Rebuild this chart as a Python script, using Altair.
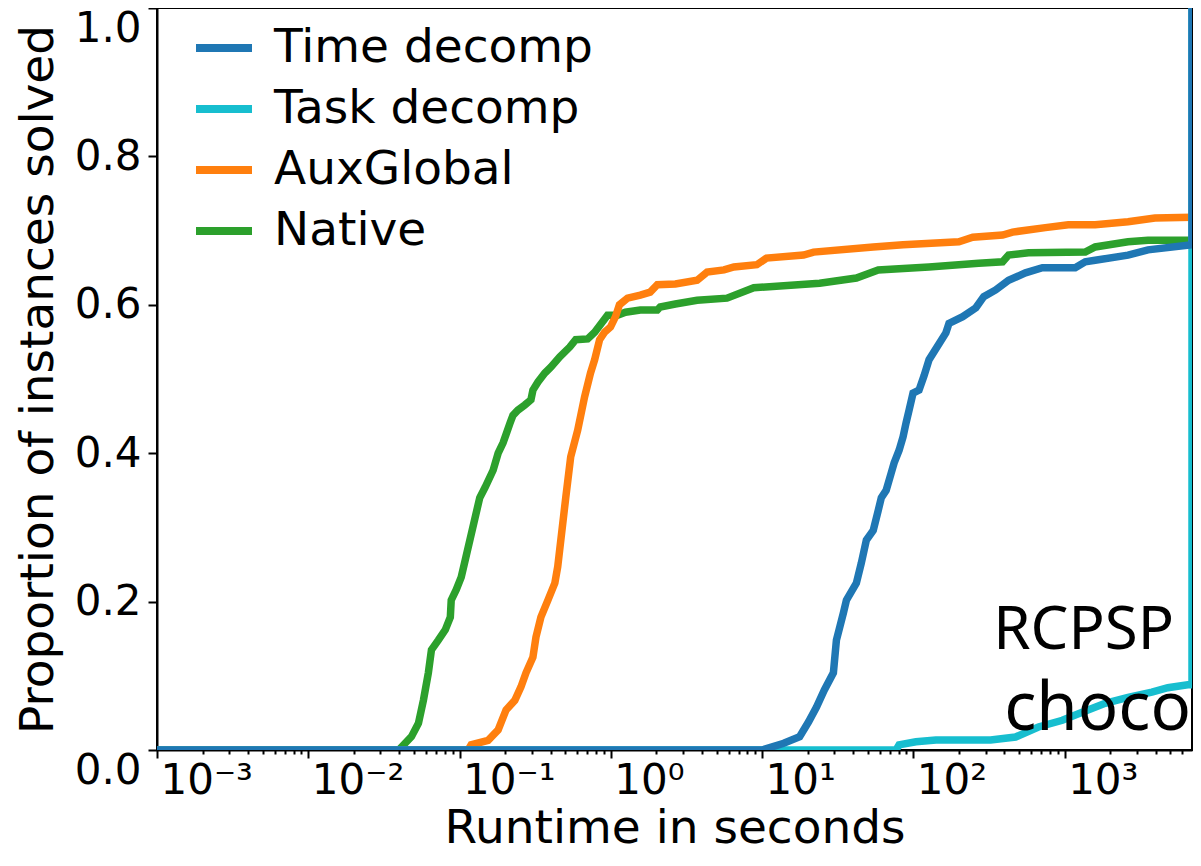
import altair as alt
import pandas as pd

series_names = ["Time decomp", "Task decomp", "AuxGlobal", "Native"]
series_colors = ["#1f77b4", "#17becf", "#ff7f0e", "#2ca02c"]
draw_order = ["Native", "AuxGlobal", "Task decomp", "Time decomp"]

native_t = [0.001, 0.0396, 0.0481, 0.0535, 0.0577, 0.0622, 0.0652, 0.0724, 0.0805, 0.0869,
            0.0881, 0.0951, 0.1026, 0.109, 0.136, 0.1476, 0.1667, 0.180, 0.194,
            0.216, 0.2254, 0.243, 0.270, 0.2965, 0.3055, 0.330, 0.3664, 0.401, 0.460,
            0.535, 0.586, 0.703, 0.782, 0.951, 1.107, 1.25, 1.567, 2.03, 2.12,
            2.67, 3.72, 5.86, 8.81, 24.0, 42.0, 58.6, 126.8, 270, 389,
            426, 577, 1368, 1592, 2624, 3556, 6950]
native_p = [0, 0, 0.018, 0.036, 0.067, 0.104, 0.135, 0.148, 0.162, 0.179,
            0.202, 0.216, 0.233, 0.256, 0.340, 0.354, 0.377, 0.400, 0.414,
            0.441, 0.451, 0.458, 0.465, 0.472, 0.485, 0.496, 0.508, 0.516, 0.530,
            0.543, 0.553, 0.554, 0.563, 0.586, 0.586, 0.590, 0.593, 0.593, 0.597,
            0.601, 0.606, 0.609, 0.623, 0.629, 0.636, 0.647, 0.651, 0.656, 0.658,
            0.667, 0.670, 0.671, 0.678, 0.685, 0.687, 0.687]

aux_t = [0.001, 0.114, 0.1194, 0.1545, 0.180, 0.203, 0.232, 0.2547, 0.275, 0.3055,
         0.320, 0.345, 0.384, 0.4266, 0.4457, 0.5035, 0.543, 0.604, 0.671, 0.734,
         0.782, 0.843, 0.910, 0.995, 1.074, 1.14, 1.29, 1.567, 1.82, 2.03,
         2.67, 3.72, 4.33, 5.60, 6.51, 9.23, 10.7, 18.8, 21.9, 54.3,
         85.5, 200, 247, 389, 453, 746, 1057, 1592, 2624, 3953, 6950]
aux_p = [0, 0, 0.007, 0.013, 0.027, 0.054, 0.067, 0.085, 0.104, 0.125,
         0.152, 0.179, 0.202, 0.225, 0.247, 0.340, 0.395, 0.431, 0.476, 0.508,
         0.526, 0.553, 0.563, 0.570, 0.584, 0.600, 0.609, 0.613, 0.617, 0.627,
         0.628, 0.633, 0.644, 0.647, 0.651, 0.654, 0.663, 0.667, 0.671, 0.678,
         0.681, 0.685, 0.691, 0.694, 0.698, 0.704, 0.708, 0.708, 0.712, 0.717, 0.718]

time_t = [0.001, 9.96, 13.9, 17.7, 20.3, 22.9, 25.8, 29.6, 31.0, 34.5,
          36.1, 42.0, 45.3, 48.9, 54.3, 58.6, 61.4, 66.1, 71.3, 74.6,
          80.5, 85.5, 89.5, 93.7, 99.5, 109, 117.5, 127, 164, 172,
          212, 259, 292, 350, 426, 551, 713, 1175, 1368, 1592,
          2624, 3556, 6950, 6950]
time_p = [0, 0, 0.009, 0.018, 0.038, 0.058, 0.081, 0.104, 0.148, 0.185,
          0.202, 0.225, 0.252, 0.283, 0.296, 0.323, 0.340, 0.350, 0.373, 0.387,
          0.404, 0.422, 0.441, 0.458, 0.481, 0.485, 0.504, 0.526, 0.562, 0.575,
          0.584, 0.596, 0.611, 0.620, 0.633, 0.643, 0.650, 0.650, 0.658, 0.660,
          0.667, 0.674, 0.681, 1.0]

task_t = [0.001, 76.9, 80.5, 104, 141, 324, 474, 671, 966, 1307,
          1853, 2624, 3776, 4810, 6516, 6950, 6950]
task_p = [0, 0, 0.007, 0.011, 0.0135, 0.0135, 0.0175, 0.031, 0.040, 0.051,
          0.063, 0.071, 0.078, 0.084, 0.088, 0.088, 1.0]

x_major = [0.001, 0.01, 0.1, 1, 10, 100, 1000]
x_major_labels = ["10⁻³", "10⁻²", "10⁻¹", "10⁰", "10¹", "10²", "10³"]
x_max = 6950
y_ticks = [0.0, 0.2, 0.4, 0.6, 0.8, 1.0]
annotation_lines = ["RCPSP", "choco"]

series_data = {
    "Time decomp": (time_t, time_p),
    "Task decomp": (task_t, task_p),
    "AuxGlobal": (aux_t, aux_p),
    "Native": (native_t, native_p),
}
rows = []
for name, (ts, ps) in series_data.items():
    for i, (t, p) in enumerate(zip(ts, ps)):
        rows.append({"series": name, "t": t, "p": p, "i": i})
df = pd.DataFrame(rows)

x_minor = [k * 10 ** e for e in range(-3, 4) for k in range(2, 10) if k * 10 ** e <= x_max]
x_ticks = sorted(x_major + x_minor)

major_test = " || ".join(f"datum.value == {v}" for v in x_major)
label_expr = ""
for v, lab in zip(x_major, x_major_labels):
    label_expr += f"datum.value == {v} ? '{lab}' : "
label_expr += "''"

PLOT_W = 1035
PLOT_H = 742

x_enc = alt.X(
    "t:Q",
    scale=alt.Scale(type="log", domain=[0.001, x_max], nice=False),
    axis=alt.Axis(
        values=x_ticks,
        labelExpr=label_expr,
        tickSize={"condition": {"test": major_test, "value": 8}, "value": 4},
        labelAlign="left",
        labelBaseline="top",
        labelOffset=3,
        labelPadding=2,
        labelFlush=False,
        labelOverlap=False,
        labelBound=False,
        titlePadding=4,
        grid=False,
    ),
    title="Runtime in seconds",
)
y_enc = alt.Y(
    "p:Q",
    scale=alt.Scale(domain=[0, 1], nice=False),
    axis=alt.Axis(
        values=y_ticks,
        format=".1f",
        tickSize=9,
        labelPadding=7,
        labelBaseline={"condition": {"test": "datum.value <= 0 || datum.value >= 1", "value": "top"},
                       "value": "middle"},
        labelFlush=False,
        titlePadding=12,
        grid=False,
    ),
    title="Proportion of instances solved",
)
color_enc = alt.Color(
    "series:N",
    scale=alt.Scale(domain=series_names, range=series_colors),
    legend=alt.Legend(
        orient="none", legendX=35, legendY=8, title=None,
        symbolType="stroke", symbolSize=3136, symbolStrokeWidth=8,
        labelFont="DejaVu Sans", labelFontSize=47, labelColor="black",
        labelOffset=18, rowPadding=6, padding=0, labelLimit=0,
    ),
)

layers = []
for name in draw_order:
    layers.append(
        alt.Chart(df)
        .transform_filter(alt.datum.series == name)
        .mark_line(strokeWidth=7.5, clip=True)
        .encode(x=x_enc, y=y_enc, color=color_enc, order="i:Q")
    )

ann1 = alt.Chart(pd.DataFrame({"label": [annotation_lines[0]]})).mark_text(
    font="Noto Sans", fontSize=60, align="right", baseline="alphabetic", color="black"
).encode(x=alt.value(1017), y=alt.value(641), text="label:N")
ann2 = alt.Chart(pd.DataFrame({"label": [annotation_lines[1]]})).mark_text(
    font="Noto Sans", fontSize=67, align="right", baseline="alphabetic", color="black"
).encode(x=alt.value(1034), y=alt.value(722), text="label:N")

chart = alt.layer(*layers, ann1, ann2).properties(
    width=PLOT_W, height=PLOT_H,
    background="white",
    autosize=alt.AutoSizeParams(type="none"),
    padding={"left": 149, "top": 0, "right": 1, "bottom": 108},
).configure_view(stroke="black", strokeWidth=2).configure_axis(
    domainColor="black", domainWidth=2, tickColor="black", tickWidth=2,
    labelFont="DejaVu Sans", labelFontSize=42, labelColor="black",
    titleFont="DejaVu Sans", titleFontSize=47, titleFontWeight="normal", titleColor="black",
    grid=False,
)

chart.save("out.html", embed_options={"renderer": "svg", "actions": False})
